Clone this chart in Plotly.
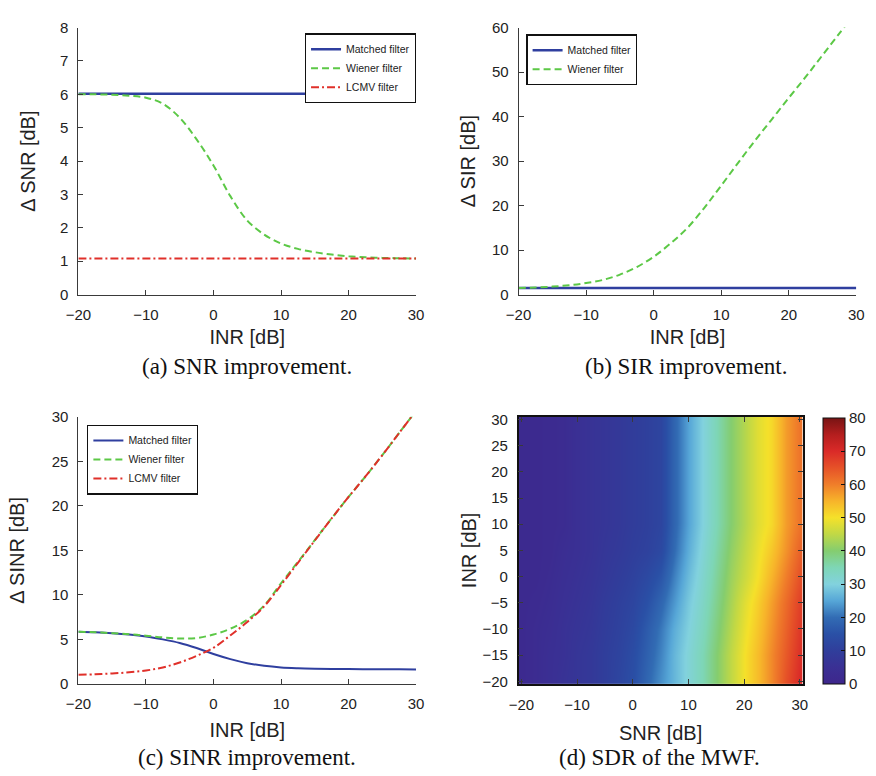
import plotly.graph_objects as go

# ---------------------------------------------------------------- data
inr_db = [-20, -17.5, -15, -12.5, -10, -7.5, -5, -2.5, 0, 2.5, 5,
          7.5, 10, 12.5, 15, 17.5, 20, 22.5, 25, 27.5, 30]

# (a) SNR improvement
snr_matched = [6.02] * 21
snr_wiener = [6.00, 6.00, 5.99, 5.96, 5.90, 5.72, 5.30, 4.65, 3.87, 2.95, 2.22,
               1.80, 1.53, 1.37, 1.27, 1.20, 1.15, 1.12, 1.10, 1.09, 1.08]
snr_lcmv = [1.08] * 21

# (b) SIR improvement
sir_matched = [1.5] * 21
sir_wiener = [1.5, 1.6, 1.8, 2.1, 2.6, 3.3, 4.5, 6.2, 8.5, 11.5, 15.0,
              19.5, 24.5, 29.6, 34.6, 39.4, 44.2, 48.9, 53.8, 58.7, 63.5]

# (c) SINR improvement
sinr_matched = [5.87, 5.80, 5.70, 5.55, 5.33, 5.00, 4.60, 4.03, 3.35, 2.78, 2.33,
                2.03, 1.85, 1.76, 1.71, 1.68, 1.66, 1.65, 1.64, 1.63, 1.62]
sinr_wiener = [5.87, 5.80, 5.70, 5.58, 5.42, 5.22, 5.10, 5.15, 5.55, 6.20, 7.20,
               8.80, 11.30, 13.70, 16.15, 18.60, 21.00, 23.30, 25.70, 28.20, 30.70]
sinr_lcmv = [1.03, 1.08, 1.17, 1.30, 1.50, 1.85, 2.40, 3.15, 4.05, 5.45, 6.95,
             8.70, 11.10, 13.60, 16.10, 18.60, 21.00, 23.30, 25.70, 28.20, 30.70]

# (d) SDR of the MWF over the (SNR, INR) grid
sdr_snr = [-20, -17.5, -15, -12.5, -10, -7.5, -5, -2.5, 0, 2.5, 5,
           7.5, 10, 12.5, 15, 17.5, 20, 22.5, 25, 27.5, 30]
sdr_inr = [-20, -15, -10, -5, 0, 5, 10, 15, 20, 25, 30]
sdr_values = [
    [2, 3, 4.5, 6, 7, 8, 10, 12, 14.5, 19, 23, 27, 31, 35, 40, 45, 50, 54, 59, 65, 70],
    [2, 3, 4.5, 5.5, 7, 8, 10, 11.5, 14, 18, 22, 27, 31, 35, 40, 45, 50, 54, 59, 64, 69],
    [2, 3, 4, 5.5, 6.5, 7.5, 9.5, 11, 13, 17, 21, 26, 30, 34, 39, 44, 49, 53, 58, 63, 68],
    [2, 2.5, 3.5, 5, 6, 7, 9, 10.5, 12, 15, 19, 24, 29, 33, 38, 43, 48, 52, 57, 62, 67],
    [2, 2, 3, 4.5, 5.5, 6.5, 8, 9.5, 11, 13, 16, 22, 27.5, 32, 37, 42, 46, 50, 55, 60, 65],
    [2, 2, 2.5, 4, 5, 6, 7.5, 8.5, 10, 11, 13, 20, 26, 31, 36, 41, 45, 49, 53, 58, 63],
    [2, 2, 2.5, 3, 5, 6, 7, 8, 9.5, 10.5, 12, 19, 25, 30, 35, 40, 44, 48, 51, 57, 61],
    [2, 2, 2.5, 3, 5, 6, 7, 8, 9.5, 10.5, 12, 19, 25, 30, 35, 40, 44, 48, 51, 57, 61],
    [2, 2, 2.5, 3, 5, 6, 7, 8, 9.5, 10.5, 12, 19, 25, 30, 35, 40, 44, 48, 51, 57, 61],
    [2, 2, 2.5, 3, 5, 6, 7, 8, 9.5, 10.5, 12, 19, 25, 30, 35, 40, 44, 48, 51, 57, 61],
    [2, 2, 2.5, 3, 5, 6, 7, 8, 9.5, 10.5, 12, 19, 25, 30, 35, 40, 44, 48, 51, 57, 61],
]
sdr_ticks = [0, 10, 20, 30, 40, 50, 60, 70, 80]

# ---------------------------------------------------------------- styles
BLUE = "#2f3f9f"
GREEN = "#5cc846"
RED = "#e0302a"
AX = "#3a3a3a"
SANS = "Liberation Sans, Arial, sans-serif"
SERIF = "Liberation Serif, Times New Roman, serif"
DASH = "7px,4px"
DASHDOT = "8px,3px,2px,3px"

# jet-like palette with the soft printed tones
jet_soft = [
    [0.0000, "rgb(62,38,140)"],
    [0.0625, "rgb(58,48,148)"],
    [0.1250, "rgb(48,62,155)"],
    [0.1875, "rgb(42,80,166)"],
    [0.2500, "rgb(50,108,180)"],
    [0.3125, "rgb(86,166,215)"],
    [0.3750, "rgb(130,210,222)"],
    [0.4375, "rgb(126,214,182)"],
    [0.5000, "rgb(132,205,112)"],
    [0.5625, "rgb(192,216,70)"],
    [0.6250, "rgb(245,225,42)"],
    [0.6875, "rgb(247,180,42)"],
    [0.7500, "rgb(240,126,42)"],
    [0.8125, "rgb(230,82,40)"],
    [0.8750, "rgb(218,42,40)"],
    [0.9375, "rgb(180,30,30)"],
    [1.0000, "rgb(120,20,20)"],
]

fig = go.Figure()

# (a)
fig.add_trace(go.Scatter(x=inr_db, y=snr_matched, name="Matched filter", mode="lines",
                         line=dict(color=BLUE, width=2.5), xaxis="x", yaxis="y", legend="legend"))
fig.add_trace(go.Scatter(x=inr_db, y=snr_wiener, name="Wiener filter", mode="lines",
                         line=dict(color=GREEN, width=2, dash=DASH, shape="spline"),
                         xaxis="x", yaxis="y", legend="legend"))
fig.add_trace(go.Scatter(x=inr_db, y=snr_lcmv, name="LCMV filter", mode="lines",
                         line=dict(color=RED, width=2, dash=DASHDOT),
                         xaxis="x", yaxis="y", legend="legend"))

# (b)
fig.add_trace(go.Scatter(x=inr_db, y=sir_matched, name="Matched filter", mode="lines",
                         line=dict(color=BLUE, width=2.5), xaxis="x2", yaxis="y2", legend="legend2"))
fig.add_trace(go.Scatter(x=inr_db, y=sir_wiener, name="Wiener filter", mode="lines",
                         line=dict(color=GREEN, width=2, dash=DASH, shape="spline"),
                         xaxis="x2", yaxis="y2", legend="legend2"))

# (c)
fig.add_trace(go.Scatter(x=inr_db, y=sinr_matched, name="Matched filter", mode="lines",
                         line=dict(color=BLUE, width=2, shape="spline"),
                         xaxis="x3", yaxis="y3", legend="legend3"))
fig.add_trace(go.Scatter(x=inr_db, y=sinr_wiener, name="Wiener filter", mode="lines",
                         line=dict(color=GREEN, width=2, dash=DASH, shape="spline"),
                         xaxis="x3", yaxis="y3", legend="legend3"))
fig.add_trace(go.Scatter(x=inr_db, y=sinr_lcmv, name="LCMV filter", mode="lines",
                         line=dict(color=RED, width=2, dash=DASHDOT, shape="spline"),
                         xaxis="x3", yaxis="y3", legend="legend3"))

# (d)
fig.add_trace(go.Heatmap(
    x=sdr_snr, y=sdr_inr, z=sdr_values, zmin=0, zmax=80, zsmooth="best",
    colorscale=jet_soft, showscale=True, showlegend=False,
    xaxis="x4", yaxis="y4",
    colorbar=dict(x=830 / 876, xanchor="left", y=1 - 690 / 776, yanchor="bottom",
                  len=272 / 776, lenmode="fraction", thickness=22, thicknessmode="pixels",
                  xpad=0, ypad=0, outlinecolor="#111", outlinewidth=1,
                  tickvals=sdr_ticks, ticks="inside", ticklen=4, tickcolor="#111",
                  tickfont=dict(family=SANS, size=15, color="#222")),
))


def line_axis(domain, rng, dtick, title, anchor, standoff, label_gap):
    return dict(domain=domain, range=rng, dtick=dtick, anchor=anchor,
                showline=True, linecolor=AX, linewidth=1, mirror=False,
                ticks="inside", ticklen=5, tickcolor=AX, ticklabelstandoff=label_gap,
                showgrid=False, zeroline=False,
                tickfont=dict(family=SANS, size=15, color="#222"),
                title=dict(text=title, font=dict(family=SANS, size=20, color="#222"),
                           standoff=standoff))


def box_axis(domain, rng, tickvals, title, anchor, standoff, label_gap):
    return dict(domain=domain, range=rng, tickvals=tickvals, anchor=anchor,
                showline=True, linecolor="#111", linewidth=1.5, mirror="allticks",
                ticks="inside", ticklen=5, tickcolor=AX, ticklabelstandoff=label_gap,
                showgrid=False, zeroline=False,
                tickfont=dict(family=SANS, size=15, color="#222"),
                title=dict(text=title, font=dict(family=SANS, size=20, color="#222"),
                           standoff=standoff))


xa = [67 / 876, 413 / 876]
xb = [518 / 876, 864 / 876]
xd = [518 / 876, 809 / 876]
ytop = [1 - 292 / 776, 1 - 19 / 776]
ybot = [1 - 690 / 776, 1 - 417 / 776]

legend_style = dict(bgcolor="white", bordercolor="#111", borderwidth=1.2,
                    font=dict(family=SANS, size=10.5, color="#222"),
                    xanchor="left", yanchor="top", tracegroupgap=0, itemwidth=30)

fig.update_layout(
    width=876, height=776, margin=dict(l=0, r=0, t=0, b=0),
    paper_bgcolor="white", plot_bgcolor="white",
    xaxis=line_axis(xa, [-20, 30], 10, "INR [dB]", "y", 8, 6),
    yaxis=line_axis(ytop, [0, 8], 1, "Δ SNR [dB]", "x", 19, 6),
    xaxis2=line_axis(xb, [-20, 30], 10, "INR [dB]", "y2", 8, 6),
    yaxis2=line_axis(ytop, [0, 60], 10, "Δ SIR [dB]", "x2", 10, 6),
    xaxis3=line_axis(xa, [-20, 30], 10, "INR [dB]", "y3", 12, 6),
    yaxis3=line_axis(ybot, [0, 30], 5, "Δ SINR [dB]", "x3", 21, 6),
    xaxis4=box_axis(xd, [-20.5, 30.5], [-20, -10, 0, 10, 20, 30], "SNR [dB]", "y4", 14, 6),
    yaxis4=box_axis(ybot, [-20.5, 30.5], [-20, -15, -10, -5, 0, 5, 10, 15, 20, 25, 30],
                    "INR [dB]", "x4", 0, 6),
    legend=dict(x=299 / 876, y=1 - 25 / 776, **legend_style),
    legend2=dict(x=526 / 876, y=1 - 26 / 776, **legend_style),
    legend3=dict(x=76 / 876, y=1 - 425 / 776, **legend_style),
)

captions = [
    ("(a) SNR improvement.", 240, 365),
    ("(b) SIR improvement.", 690, 365),
    ("(c) SINR improvement.", 240, 765),
    ("(d) SDR of the MWF.", 662, 765),
]
for text, cx, cy in captions:
    fig.add_annotation(text=text, x=cx / 876, y=1 - cy / 776, xref="paper", yref="paper",
                       xanchor="center", yanchor="middle", showarrow=False,
                       font=dict(family=SERIF, size=23, color="#111"))

fig.write_html("out.html")
